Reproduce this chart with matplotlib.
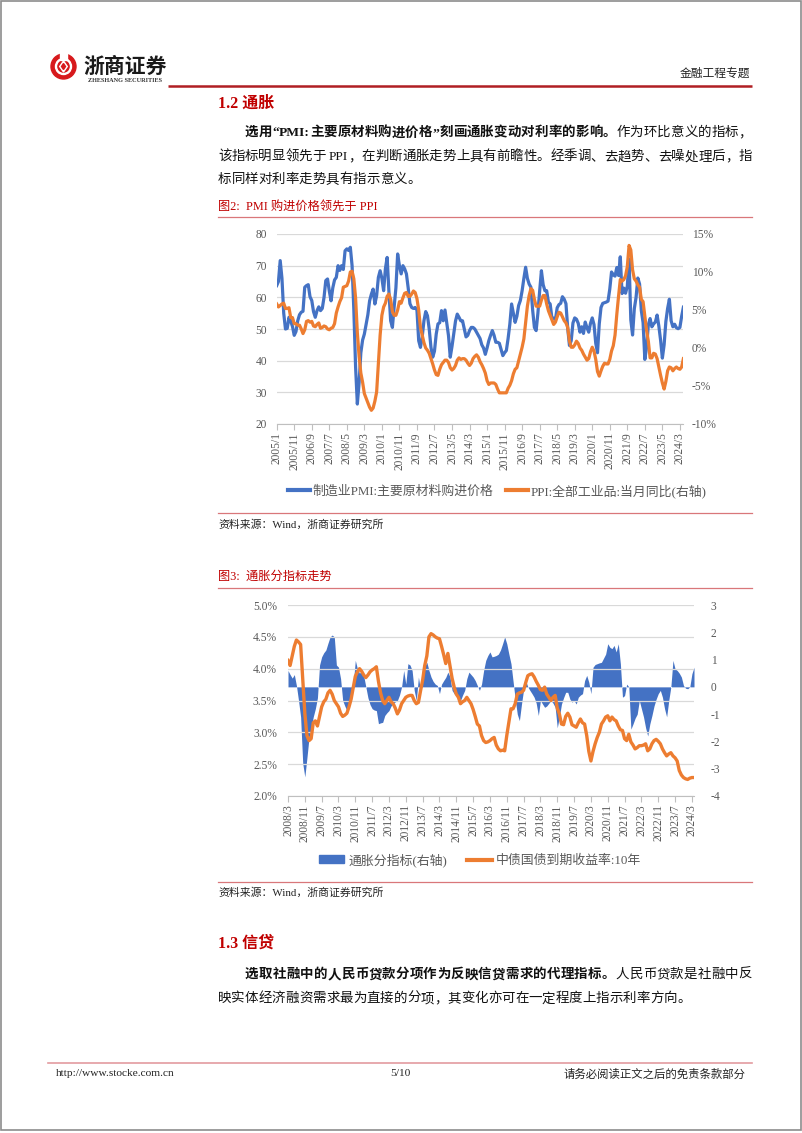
import matplotlib
matplotlib.use('Agg')
import matplotlib.pyplot as plt
import numpy as np
from matplotlib.lines import Line2D
from matplotlib.patches import Patch, Circle, Polygon, Rectangle
from matplotlib.font_manager import FontProperties
from matplotlib.ticker import FuncFormatter

# ---------------- data: chart 1 (monthly, 2005/1 - 2024/5) ----------------
pmi_input_price = [
    63.7, 65.0, 71.6, 66.0, 55.0, 50.0, 50.2, 53.7, 52.5, 50.8, 48.0, 49.2,
    52.6, 54.5, 55.3, 55.6, 63.2, 63.7, 64.0, 60.2, 59.0, 55.5, 53.7, 55.8,
    57.0, 55.8, 56.5, 60.0, 65.3, 65.8, 62.0, 58.9, 63.0, 65.5, 66.3, 70.0,
    68.5, 70.0, 68.8, 74.7, 75.3, 74.8, 75.8, 70.0, 56.0, 38.0, 26.3, 33.0,
    42.5, 46.5, 48.4, 51.5, 54.5, 58.9, 61.0, 62.6, 57.9, 60.5, 66.3, 68.4,
    66.0, 62.1, 69.0, 72.6, 62.0, 52.6, 50.5, 57.0, 63.0, 73.7, 70.0, 67.4,
    70.0, 69.0, 67.4, 63.0, 58.0, 56.8, 56.5, 56.8, 56.0, 46.3, 44.2, 47.5,
    52.6, 55.5, 54.2, 50.0, 44.2, 41.1, 43.0, 48.4, 51.6, 52.0, 55.8, 52.6,
    56.0, 52.0, 47.9, 41.1, 44.5, 48.4, 52.5, 54.7, 53.7, 52.6, 52.6, 50.0,
    47.5, 48.0, 49.5, 50.5, 50.5, 50.0, 49.0, 48.0, 47.0, 45.0, 44.0, 42.0,
    44.0, 46.3, 48.0, 49.5, 48.0, 45.8, 45.8, 45.5, 43.5, 41.6, 42.5, 43.2,
    47.0, 51.6, 57.9, 55.0, 52.1, 54.0, 57.4, 59.0, 62.1, 66.0, 69.5, 66.0,
    64.2, 63.2, 56.0, 50.5, 49.5, 55.0, 62.0, 68.4, 64.0, 62.1, 62.1, 58.5,
    57.9, 53.4, 53.4, 53.0, 56.7, 57.7, 58.1, 60.2, 59.4, 58.0, 50.3, 44.8,
    46.3, 51.9, 53.5, 53.1, 51.8, 49.0, 50.7, 48.6, 52.2, 50.4, 49.0, 51.8,
    53.5, 51.4, 45.5, 42.5, 51.6, 56.8, 58.1, 58.3, 58.5, 58.8, 62.6, 68.0,
    67.1, 66.7, 69.4, 66.9, 72.8, 61.2, 62.9, 61.3, 63.5, 72.1, 52.9, 48.1,
    56.4, 60.0, 66.1, 64.2, 55.8, 52.0, 40.4, 44.3, 51.3, 53.3, 50.7, 51.6,
    52.2, 54.4, 50.9, 46.4, 40.8, 45.0, 52.4, 56.5, 59.4, 52.6, 50.7, 51.5,
    50.4, 50.1, 50.5, 54.0, 56.9,
]
ppi_yoy = [
    5.8, 5.4, 5.6, 5.8, 5.9, 5.2, 5.2, 5.3, 4.0, 4.0, 3.2, 3.2,
    3.0, 3.0, 2.5, 1.9, 2.4, 3.5, 3.6, 3.4, 3.5, 2.9, 2.8, 3.1,
    3.3, 2.6, 2.7, 2.9, 2.8, 2.5, 2.4, 2.6, 2.7, 3.2, 4.6, 5.4,
    6.1, 6.6, 8.0, 8.1, 8.2, 8.8, 10.0, 10.1, 9.1, 6.6, 2.0, -1.1,
    -3.3, -4.5, -6.0, -6.6, -7.2, -7.8, -8.2, -7.9, -7.0, -5.8, -2.1, 1.7,
    4.3, 5.4, 5.9, 6.8, 7.1, 6.4, 4.8, 4.3, 4.3, 5.0, 6.1, 5.9,
    6.6, 7.2, 7.3, 6.8, 6.8, 7.1, 7.5, 7.3, 6.5, 5.0, 2.7, 1.7,
    0.7, 0.0, -0.3, -0.7, -1.4, -2.1, -2.9, -3.5, -3.6, -2.8, -2.2, -1.9,
    -1.6, -1.6, -1.9, -2.6, -2.9, -2.7, -2.3, -1.6, -1.3, -1.5, -1.4, -1.4,
    -1.6, -2.0, -2.3, -2.0, -1.4, -1.1, -0.9, -1.2, -1.8, -2.2, -2.7, -3.3,
    -4.3, -4.8, -4.6, -4.6, -4.6, -4.8, -5.4, -5.9, -5.9, -5.9, -5.9, -5.9,
    -5.3, -4.9, -4.3, -3.4, -2.8, -2.6, -1.7, -0.8, 0.1, 1.2, 3.3, 5.5,
    6.9, 7.8, 7.6, 6.4, 5.5, 5.5, 5.5, 6.3, 6.9, 6.9, 5.8, 4.9,
    4.3, 3.7, 3.1, 3.4, 4.1, 4.7, 4.6, 4.1, 3.6, 3.3, 2.7, 0.9,
    0.1, 0.1, 0.4, 0.9, 0.6, 0.0, -0.3, -0.8, -1.2, -1.6, -1.4, -0.5,
    0.1, -0.4, -1.5, -3.1, -3.7, -3.0, -2.4, -2.0, -2.1, -2.1, -1.5, -0.4,
    0.3, 1.7, 4.4, 6.8, 9.0, 8.8, 9.0, 9.5, 10.7, 13.5, 12.9, 10.3,
    9.1, 8.8, 8.3, 8.0, 6.4, 6.1, 4.2, 2.3, 0.9, -1.3, -1.3, -0.7,
    -0.8, -1.4, -2.5, -3.6, -4.6, -5.4, -4.4, -3.0, -2.5, -2.6, -3.0, -2.7,
    -2.5, -2.7, -2.8, -2.5, -1.4,
]
c1_tick_labels = ['2005/1', '2005/11', '2006/9', '2007/7', '2008/5', '2009/3',
                  '2010/1', '2010/11', '2011/9', '2012/7', '2013/5', '2014/3',
                  '2015/1', '2015/11', '2016/9', '2017/7', '2018/5', '2019/3',
                  '2020/1', '2020/11', '2021/9', '2022/7', '2023/5', '2024/3']
c1_tick_step = 10
c1_series = ['制造业PMI:主要原材料购进价格', 'PPI:全部工业品:当月同比(右轴)']

# ---------------- data: chart 2 (monthly, 2008/3 - 2024/4) ----------------
cgb_10y = [
    4.13, 4.05, 4.20, 4.35, 4.45, 4.42, 4.38, 3.85, 3.30, 2.95, 2.87, 2.90,
    3.15, 3.18, 3.10, 3.25, 3.40, 3.48, 3.52, 3.62, 3.66, 3.60, 3.50, 3.45,
    3.40, 3.30, 3.25, 3.27, 3.30, 3.40, 3.52, 3.70, 3.88, 3.95, 4.00, 3.96,
    3.90, 3.86, 3.90, 3.95, 3.98, 4.00, 4.03, 3.80, 3.62, 3.50, 3.45, 3.50,
    3.55, 3.48, 3.45, 3.38, 3.29, 3.35, 3.45, 3.50, 3.55, 3.57, 3.58, 3.58,
    3.50, 3.45, 3.47, 3.65, 3.82, 4.05, 4.20, 4.50, 4.55, 4.53, 4.50, 4.48,
    4.47, 4.35, 4.22, 4.08, 4.24, 4.05, 3.85, 3.71, 3.60, 3.55, 3.45, 3.48,
    3.50, 3.55, 3.50, 3.45, 3.36, 3.25, 3.13, 3.10, 2.95, 2.87, 2.84, 2.85,
    2.87, 2.90, 2.92, 2.80, 2.74, 2.71, 2.72, 2.71, 2.95, 3.16, 3.37, 3.37,
    3.45, 3.60, 3.62, 3.63, 3.66, 3.78, 3.89, 3.91, 3.92, 3.87, 3.80, 3.74,
    3.67, 3.66, 3.71, 3.60, 3.55, 3.50, 3.55, 3.58, 3.38, 3.29, 3.13, 3.12,
    3.25, 3.30, 3.24, 3.12, 3.10, 3.08, 3.15, 3.21, 3.15, 3.13, 2.95, 2.70,
    2.55, 2.70, 2.82, 2.92, 3.00, 3.13, 3.18, 3.24, 3.26, 3.18, 3.24, 3.20,
    3.18, 3.10, 3.04, 3.03, 2.90, 2.87, 2.97, 2.85, 2.80, 2.74, 2.76, 2.79,
    2.79, 2.80, 2.82, 2.71, 2.74, 2.82, 2.87, 2.89, 2.86, 2.82, 2.74, 2.68,
    2.63, 2.66, 2.68, 2.63, 2.60, 2.55, 2.40, 2.33, 2.29, 2.27, 2.26, 2.28,
    2.29, 2.29,
]
inflation_sub = [
    0.60, 0.45, 0.32, 0.45, 0.05, -0.50, -1.10, -2.80, -3.30, -2.60, -1.85, -1.50,
    -1.10, -0.80, -0.40, 0.80, 1.10, 1.25, 1.35, 1.60, 1.83, 1.90, 1.83, 0.80,
    0.72, 0.30, -0.50, -0.70, -0.87, -0.60, -0.15, 0.10, 0.97, 0.66, 0.50, 0.60,
    0.40, 0.00, -0.40, -0.65, -0.80, -0.85, -0.87, -1.35, -1.32, -1.30, -1.05, -0.95,
    -0.87, -0.70, -0.60, -0.55, -0.50, -0.30, 0.00, 0.60, 0.10, 0.85, 0.80, 0.60,
    -0.13, -0.50, 0.36, -0.13, 0.72, 0.75, 0.90, 0.60, 0.36, 0.20, 0.10, 0.05,
    -0.25, 0.10, 0.23, 0.35, 0.54, 0.36, -0.13, -0.25, -0.32, -0.38, -0.50, -0.30,
    -0.13, 0.30, 0.54, 0.45, 0.36, 0.23, 0.05, -0.13, 0.10, 0.60, 0.97, 1.15,
    1.28, 1.10, 1.12, 1.15, 1.20, 1.35, 1.58, 1.83, 1.58, 1.20, 0.85, 0.20,
    -0.45, -1.00, -1.24, -0.63, -0.10, 0.23, 0.00, -0.13, -0.25, -0.38, -0.60, -1.05,
    -0.50, -0.63, -0.75, -0.70, -0.60, -0.50, -0.60, -0.75, -1.50, -1.10, -0.63, -0.40,
    -0.20, -0.20, -0.45, -0.56, -0.50, -0.63, -0.38, -0.30, -0.25, 0.23, 0.42, 0.17,
    -0.25, 0.72, 0.82, 0.85, 0.88, 0.90, 1.05, 1.20, 1.58, 1.45, 1.40, 1.52,
    1.28, 1.58, 0.85, -0.38, -0.32, 0.10, 0.00, -1.55, -1.36, -1.15, -1.00, -0.50,
    -0.80, -1.10, -1.50, -1.80, -1.36, -1.05, -0.70, -0.45, -0.25, -0.13, -0.38, -0.80,
    -1.10, -0.50, 0.00, 0.97, 0.66, 0.60, 0.50, 0.36, 0.05, -0.05, -0.07, 0.00,
    0.48, 0.72,
]
c2_tick_labels = ['2008/3', '2008/11', '2009/7', '2010/3', '2010/11', '2011/7',
                  '2012/3', '2012/11', '2013/7', '2014/3', '2014/11', '2015/7',
                  '2016/3', '2016/11', '2017/7', '2018/3', '2018/11', '2019/7',
                  '2020/3', '2020/11', '2021/7', '2022/3', '2022/11', '2023/7',
                  '2024/3']
c2_tick_step = 8
c2_series = ['通胀分指标(右轴)', '中债国债到期收益率:10年']

# ---------------- page setup ----------------
W, H = 802, 1133
fig = plt.figure(figsize=(W / 100, H / 100), dpi=100)
page = fig.add_axes([0, 0, 1, 1])
page.set_xlim(0, W)
page.set_ylim(H, 0)
page.axis('off')

FAM = ['Liberation Serif', 'Noto Sans CJK SC']
CJKF = ['Noto Sans CJK SC', 'DejaVu Sans']
BLUE = '#4472C4'
ORANGE = '#ED7D31'
RED = '#C00000'
TICKC = '#595959'
GRID = '#D9D9D9'


def fp(size, weight='normal', fam=FAM):
    return FontProperties(family=fam, size=size, weight=weight)


def rect(x0, y0, x1, y1):
    return [x0 / W, 1 - y1 / H, (x1 - x0) / W, (y1 - y0) / H]


# page border
page.add_patch(Rectangle((0.5, 0.5), W - 1.5, 1129.5, fill=False, ec='#8C8C8C', lw=1.2))

# logo
LC = (63.5, 66.5)
page.add_patch(Circle(LC, 12.5, color='#D7191C'))
page.add_patch(Circle(LC, 8.0, color='white'))
page.add_patch(Circle(LC, 5.6, color='#D7191C'))
page.add_patch(Polygon([(LC[0], LC[1] - 5.5), (LC[0] + 3.8, LC[1]), (LC[0], LC[1] + 5.5), (LC[0] - 3.8, LC[1])],
                       closed=True, color='white'))
page.add_patch(Polygon([(LC[0], LC[1] - 3.0), (LC[0] + 2.0, LC[1]), (LC[0], LC[1] + 3.0), (LC[0] - 2.0, LC[1])],
                       closed=True, color='#D7191C'))
page.add_patch(Rectangle((LC[0] - 3.5, 52), 7, 8, color='white'))
page.text(83, 66, '浙商证券', fontproperties=fp(15, 'bold', CJKF), va='center', ha='left', color='#1a1a1a')
page.text(125, 80.5, 'ZHESHANG SECURITIES', fontproperties=fp(4.5, 'bold', ['Liberation Serif']),
          va='center', ha='center', color='#333333')
page.text(750, 73, '金融工程专题', fontproperties=fp(8.5, 'normal', CJKF), va='center', ha='right', color='#222222')
page.plot([168, 752], [86, 86], color='#B01E23', lw=1.8, solid_capstyle='butt')

renderer = fig.canvas.get_renderer()


def tokenize(segments):
    toks = []
    for text, wt in segments:
        i = 0
        while i < len(text):
            ch = text[i]
            if ch == ' ':
                toks.append((' ', wt))
                i += 1
            elif ch.isascii():
                j = i
                while j < len(text) and text[j].isascii() and text[j] != ' ':
                    j += 1
                toks.append((text[i:j], wt))
                i = j
            else:
                toks.append((ch, wt))
                i += 1
    return toks


def draw_line(segments, x0, x1, y, size, justify=True, color='#111111'):
    toks = tokenize(segments)
    arts, widths = [], []
    for tok, wt in toks:
        if tok == ' ':
            arts.append(None)
            widths.append(size * 0.35)
            continue
        t = page.text(0, y, tok, fontproperties=fp(size, wt), va='center', ha='left', color=color)
        widths.append(t.get_window_extent(renderer).width)
        arts.append(t)
    extra = 0.0
    if justify and len(toks) > 1:
        extra = (x1 - x0 - sum(widths)) / (len(toks) - 1)
    x = x0
    for a, w in zip(arts, widths):
        if a is not None:
            a.set_x(x)
        x += w + extra


BODY = 9.7
# section 1.2
page.text(218, 104, '1.2 通胀', fontproperties=fp(11.5, 'bold'), va='center', ha='left', color=RED)
draw_line([('选用“PMI:主要原材料购进价格”刻画通胀变动对利率的影响。', 'bold'), ('作为环比意义的指标，', 'normal')],
          245, 752, 133, BODY)
draw_line([('该指标明显领先于 PPI，在判断通胀走势上具有前瞻性。经季调、去趋势、去噪处理后，指', 'normal')],
          218, 752, 157, BODY)
draw_line([('标同样对利率走势具有指示意义。', 'normal')], 218, 752, 180, BODY, justify=False)

# figure 2 title
page.text(218, 207, '图2:  PMI 购进价格领先于 PPI', fontproperties=fp(8.8), va='center', ha='left', color=RED)
page.plot([218, 752], [217, 217], color='#D9777A', lw=0.9)
page.plot([218, 752], [513, 513], color='#D9777A', lw=0.9)
page.text(218, 525, '资料来源：Wind，浙商证券研究所', fontproperties=fp(7.8), va='center', ha='left', color='#222222')

# figure 3 title
page.text(218, 577, '图3:  通胀分指标走势', fontproperties=fp(8.8), va='center', ha='left', color=RED)
page.plot([218, 752], [588, 588], color='#D9777A', lw=0.9)
page.plot([218, 752], [882, 882], color='#D9777A', lw=0.9)
page.text(218, 893, '资料来源：Wind，浙商证券研究所', fontproperties=fp(7.8), va='center', ha='left', color='#222222')

# section 1.3
page.text(218, 944, '1.3 信贷', fontproperties=fp(11.5, 'bold'), va='center', ha='left', color=RED)
draw_line([('选取社融中的人民币贷款分项作为反映信贷需求的代理指标。', 'bold'), ('人民币贷款是社融中反', 'normal')],
          245, 752, 975, BODY)
draw_line([('映实体经济融资需求最为直接的分项，其变化亦可在一定程度上指示利率方向。', 'normal')],
          218, 752, 999, BODY, justify=False)

# footer
page.plot([48, 752], [1063, 1063], color='#E39BA0', lw=1.2)
page.text(56, 1074, 'http://www.stocke.com.cn', fontproperties=fp(8.2, 'normal', ['Liberation Serif']),
          va='center', ha='left', color='#222222')
page.text(400, 1074, '5/10', fontproperties=fp(8.2, 'normal', ['Liberation Serif']), va='center', ha='center',
          color='#222222')
page.text(746, 1074, '请务必阅读正文之后的免责条款部分', fontproperties=fp(8.2), va='center', ha='right', color='#222222')

TICKFP = fp(8.3)


def style_axes(ax, right_ax):
    for a in (ax, right_ax):
        for s in ('top', 'left', 'right', 'bottom'):
            a.spines[s].set_visible(False)
        a.tick_params(axis='y', length=0, colors=TICKC)
    ax.spines['bottom'].set_visible(True)
    ax.spines['bottom'].set_color('#BFBFBF')
    ax.spines['bottom'].set_linewidth(0.8)
    ax.tick_params(axis='x', length=4, color='#BFBFBF', colors=TICKC, pad=2)
    ax.grid(axis='y', color=GRID, lw=0.9)
    ax.set_axisbelow(True)
    ax.set_facecolor('none')
    for lab in ax.get_xticklabels() + ax.get_yticklabels() + right_ax.get_yticklabels():
        lab.set_fontproperties(TICKFP)
        lab.set_color(TICKC)


# ---------------- chart 1 ----------------
x1 = np.arange(len(pmi_input_price))
ax1 = fig.add_axes(rect(276.7, 234, 683.4, 424))
ax1b = ax1.twinx()
ax1.plot(x1, pmi_input_price, color=BLUE, lw=2.3, solid_joinstyle='round', zorder=3)
ax1b.plot(x1, ppi_yoy, color=ORANGE, lw=2.3, solid_joinstyle='round', zorder=4)
ax1.set_xlim(0, len(x1) - 1)
ax1.set_ylim(20, 80)
ax1.set_yticks(np.arange(20, 81, 10))
ax1b.set_ylim(-10, 15)
ax1b.set_yticks(np.arange(-10, 16, 5))
ax1b.yaxis.set_major_formatter(FuncFormatter(lambda v, p: f'{v:.0f}%'))
ax1.set_xticks(np.arange(len(c1_tick_labels)) * c1_tick_step)
ax1.set_xticklabels(c1_tick_labels, rotation=90)
style_axes(ax1, ax1b)
ax1.tick_params(axis='y', pad=7)
ax1b.tick_params(axis='y', pad=6)

h1 = [Line2D([], [], color=BLUE, lw=3), Line2D([], [], color=ORANGE, lw=3)]
fig.legend(h1, c1_series, loc='center', bbox_to_anchor=(497 / W, 1 - 491 / H), ncol=2, frameon=False,
           prop=fp(9.3), handlelength=1.7, handletextpad=0.2, columnspacing=1.0, labelcolor=TICKC)

# ---------------- chart 2 ----------------
x2 = np.arange(len(cgb_10y))
ax2 = fig.add_axes(rect(288, 605, 694, 796))
ax2b = ax2.twinx()
ax2b.fill_between(x2, inflation_sub, 0, color=BLUE, lw=0, zorder=2)
ax2.plot(x2, cgb_10y, color=ORANGE, lw=2.4, solid_joinstyle='round', zorder=5)
ax2.set_xlim(0, len(x2) - 1)
ax2.set_ylim(2.0, 5.0)
ax2.set_yticks(np.arange(2.0, 5.01, 0.5))
ax2.yaxis.set_major_formatter(FuncFormatter(lambda v, p: f'{v:.1f}%'))
ax2b.set_ylim(-4, 3)
ax2b.set_yticks(np.arange(-4, 4, 1))
ax2b.yaxis.set_major_formatter(FuncFormatter(lambda v, p: f'{v:.0f}'))
ax2.set_xticks(np.arange(len(c2_tick_labels)) * c2_tick_step)
ax2.set_xticklabels(c2_tick_labels, rotation=90)
style_axes(ax2, ax2b)
ax2.tick_params(axis='y', pad=8)
ax2b.tick_params(axis='y', pad=12)
ax2.set_zorder(ax2b.get_zorder() + 1)
ax2.patch.set_visible(False)
ax2b.grid(False)

h2 = [Patch(color=BLUE), Line2D([], [], color=ORANGE, lw=3)]
fig.legend(h2, c2_series, loc='center', bbox_to_anchor=(480 / W, 1 - 860 / H), ncol=2, frameon=False,
           prop=fp(9.3), handlelength=2.0, handleheight=0.6, handletextpad=0.3, columnspacing=1.5,
           labelcolor=TICKC)

fig.savefig('out.png', dpi=100)
